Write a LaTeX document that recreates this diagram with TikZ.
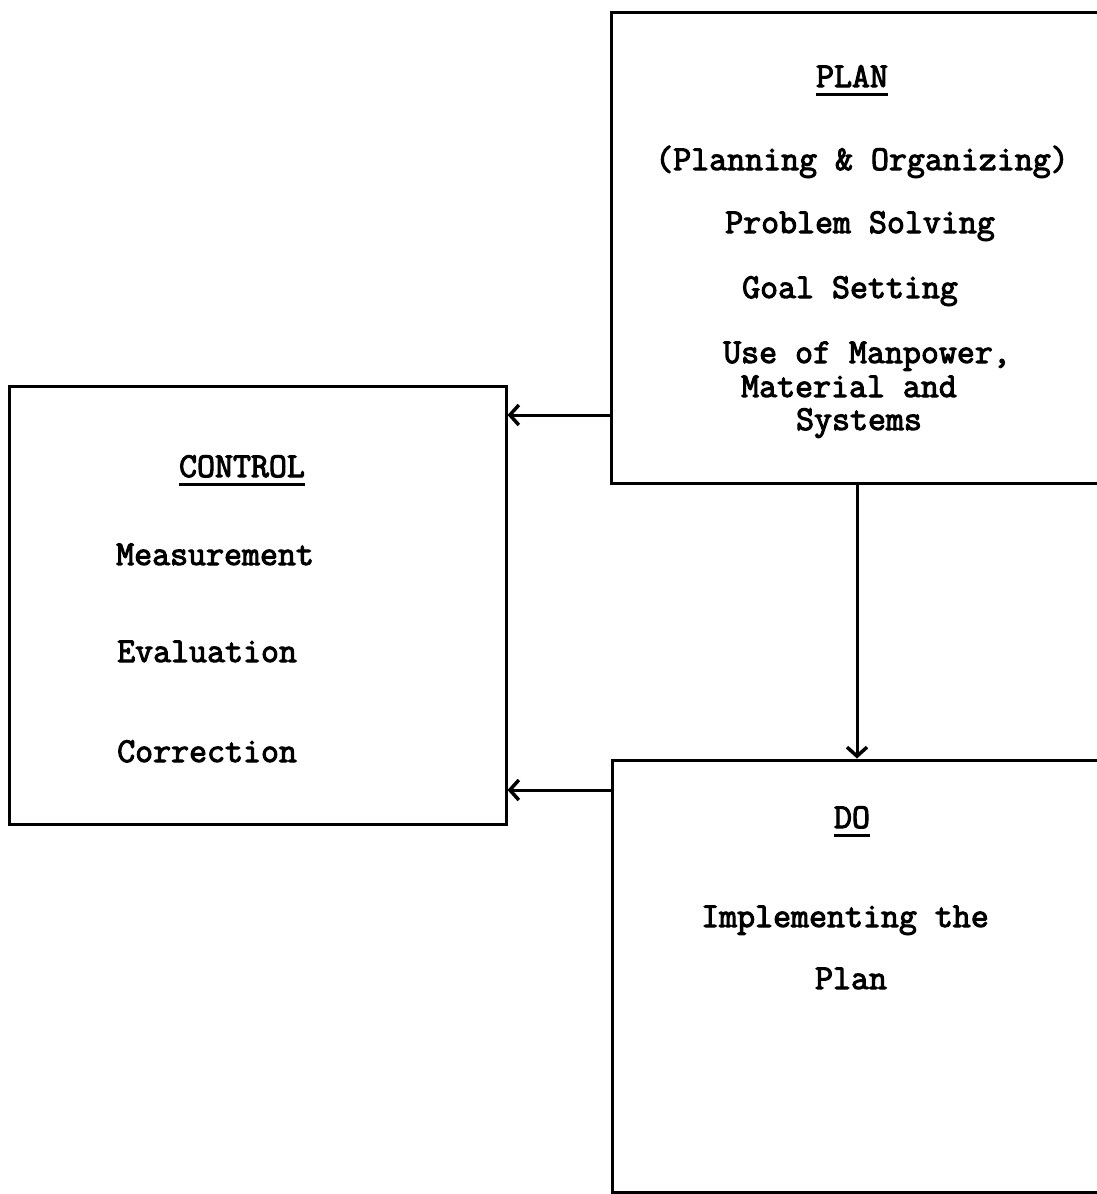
\documentclass[tikz,border=0pt]{standalone}
\usepackage{fontspec}
\usetikzlibrary{arrows.meta}
\newfontfamily\typew{Latin Modern Mono}[FakeBold=3]
\newcommand\ulx[1]{\setbox0\hbox{#1}\rlap{\rule[-9pt]{\wd0}{2.6pt}}\box0}
\tikzset{
  boxnode/.style={draw, line width=3pt, rectangle, inner sep=0pt},
  txt/.style={font=\typew\fontsize{34.9}{40}\selectfont, inner sep=0pt, anchor=base},
  txtl/.style={txt, anchor=base west},
  arr/.style={line width=3pt, -{Straight Barb[length=9pt,width=20pt,line width=3.5pt]}}
}
\begin{document}
\begin{tikzpicture}[x=1pt,y=-1pt]
\useasboundingbox (0,0) rectangle (1097,1194);
\clip (0,0) rectangle (1097,1194);
% boxes
\node[boxnode, minimum width=501pt, minimum height=471pt] (plan) at (861.5,247.5) {};
\node[boxnode, minimum width=497pt, minimum height=438pt] (control) at (257.5,605) {};
\node[boxnode, minimum width=501pt, minimum height=432pt] (do) at (862.5,976) {};
% PLAN texts
\node[txt] (tplan) at (852,87) {\ulx{PLAN}};
\node[txt] (tp1) at (862,170) {(Planning \& Organizing)};
\node[txt] (tp2) at (860,233) {Problem Solving};
\node[txt] (tp3) at (850,298) {Goal Setting};
\node[txt] (tp4) at (867,363) {Use of Manpower,};
\node[txt] (tp5) at (849,397) {Material and};
\node[txt] (tp6) at (859,430) {Systems};
% CONTROL texts
\node[txt] (tcontrol) at (242,477) {\ulx{CONTROL}};
\node[txtl] (tc1) at (116,565) {Measurement};
\node[txtl] (tc2) at (117,662) {Evaluation};
\node[txtl] (tc3) at (117,762) {Correction};
% DO texts
\node[txt] (tdo) at (852,828) {\ulx{DO}};
\node[txt] (td1) at (845,927) {Implementing the};
\node[txt] (td2) at (851,989) {Plan};
% connectors
\coordinate (a1) at (0,415);
\coordinate (a2) at (0,790);
\coordinate (v) at (857,0);
\draw[arr] (plan.west |- a1) -- (control.east |- a1);
\draw[arr] (do.west |- a2) -- (control.east |- a2);
\draw[arr] (plan.south -| v) -- (do.north -| v);
\end{tikzpicture}
\end{document}
